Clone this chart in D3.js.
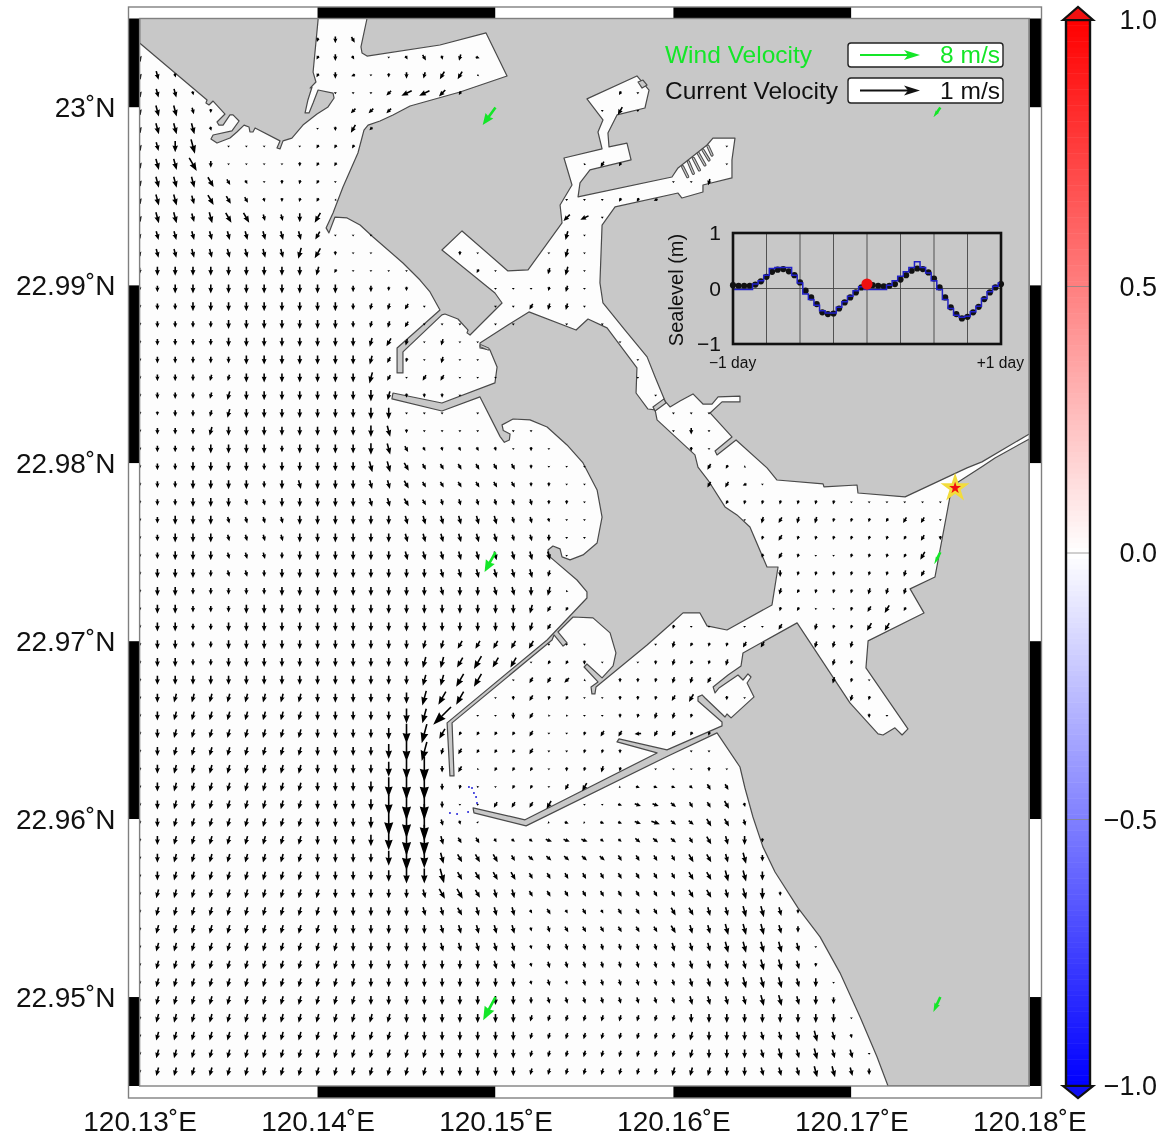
<!DOCTYPE html>
<html>
<head>
<meta charset="utf-8">
<script src="https://cdn.jsdelivr.net/npm/d3@7"></script>
<style>
body { margin: 0; background: #fff; }
svg { display: block; filter: blur(0.45px); }
text { font-family: "Liberation Sans", Arial, sans-serif; }
</style>
</head>
<body>
<div id="chart"></div>
<script>
// tide and current map, Kaohsiung harbour
var lonTicks = [120.13, 120.14, 120.15, 120.16, 120.17, 120.18];
var latTicks = [23, 22.99, 22.98, 22.97, 22.96, 22.95];
var colorTicks = [1, 0.5, 0, -0.5, -1];

// coast outlines: [thousandths of a degree east of 120.13, south of 23.005]
var landNorthWest = [[0,0],[0,1.38],[3.79,4.58],[3.73,4.75],[3.9,4.86],[4.13,4.64],[4.8,5.37],[4.35,5.82],[4.46,5.99],[4.69,5.99],[5.08,5.42],[5.25,5.42],[5.59,5.76],[5.19,6.32],[4.13,6.55],[4.01,6.77],[4.35,7],[5.08,6.72],[5.47,6.38],[5.87,5.99],[6.15,6.1],[6.2,6.38],[6.37,6.38],[6.49,6.15],[7.89,6.88],[7.72,7.28],[7.89,7.33],[8.06,6.88],[8.56,6.72],[9.18,5.99],[9.97,5.37],[10.59,4.97],[10.93,4.47],[10.87,4.19],[10.03,4.02],[9.75,4.75],[9.52,5.31],[9.3,5.31],[9.46,4.58],[9.69,3.85],[9.58,3.91],[9.91,3.57],[9.75,3.01],[10.03,0.08],[10.03,0]];
var landNorth = [[12.78,0],[12.44,1.6],[12.5,1.94],[12.78,2.11],[16.88,1.49],[19.47,0.81],[20.65,3.23],[18.01,4.13],[15.2,4.92],[14.24,5.42],[13.51,5.76],[12.84,5.99],[12.61,6.27],[12.27,7.56],[11.43,9.47],[10.87,10.93],[10.48,11.77],[10.64,12.05],[10.98,11.16],[11.66,11.21],[12.39,11.61],[13.12,12.28],[14.8,13.74],[15.76,14.7],[16.32,15.37],[16.88,16.38],[14.47,18.52],[14.47,19.92],[14.8,19.92],[14.8,18.74],[16.99,16.66],[17.16,16.61],[17.89,16.89],[18.46,17.51],[18.4,17.67],[18.57,17.79],[20.37,15.99],[19.97,15.43],[16.99,13.01],[18.12,11.94],[20.7,14.19],[21.83,14.13],[23.74,11.49],[23.63,10.48],[24.3,9.36],[23.85,7.84],[25.99,7.33],[25.76,6.38],[26.04,5.7],[25.14,4.52],[27.95,3.23],[28.63,4.02],[28.4,5.03],[26.83,5.42],[26.32,6.43],[26.38,7.22],[27.39,7],[27.62,7.95],[25.31,8.51],[24.75,9.24],[24.64,10.03],[29.92,8.91],[30.26,8.4],[31.89,7.11],[32.22,6.72],[33.46,6.72],[33.29,7.95],[33.29,8.96],[31.66,9.36],[31.66,9.75],[30.48,10.09],[30.26,9.81],[26.72,10.59],[25.99,11.61],[25.87,14.86],[26.04,15.99],[27.28,17.51],[28.52,19.02],[28.97,20.15],[29.53,21.5],[29.81,21.83],[30.37,21.5],[31.1,21.1],[31.66,21.67],[32.17,21.67],[32.51,21.27],[33.74,21.22],[33.74,21.55],[32.73,21.55],[32.06,22.17],[33.29,23.52],[32.34,24.31],[32.45,24.53],[33.52,23.69],[35.26,25.26],[35.82,25.94],[38.41,26.16],[38.46,26.33],[40.32,26.22],[40.37,26.67],[43.02,26.89],[46.5,25.26],[47.34,24.92],[50,23.35],[50,0]];
var landCentre = [[19.13,18.24],[19.13,18.52],[19.69,18.63],[20.09,19.59],[19.97,20.48],[16.99,21.61],[14.24,21.05],[14.18,21.38],[16.99,22.06],[19.13,21.27],[20.26,23.5],[20.5,23.82],[20.78,23.69],[20.82,23.35],[20.44,23.16],[20.37,22.84],[20.99,22.51],[21.94,22.56],[22.9,22.96],[24.02,23.97],[24.92,24.98],[25.71,26.5],[25.99,28.02],[25.71,29.48],[24.92,30.15],[24.19,30.43],[23.74,30.26],[23.63,29.81],[23.23,29.65],[22.95,29.87],[23.06,30.26],[24.58,31.56],[25.14,32.23],[25.14,32.57],[22.9,34.93],[17.28,39.59],[17.44,42.57],[17.67,42.57],[17.56,39.59],[23.18,34.93],[23.29,34.65],[23.8,35.27],[24.02,35.1],[23.51,34.48],[24.36,33.64],[25.48,33.69],[26.44,34.53],[26.77,35.66],[26.61,36.39],[25.99,37.06],[25.14,36.28],[24.98,36.45],[25.76,37.29],[25.37,37.57],[25.42,37.96],[25.59,37.96],[25.65,37.57],[28.52,35.21],[29.98,33.92],[30.54,33.41],[31.49,33.41],[31.89,34.14],[33.01,34.37],[35.54,32.96],[35.88,30.83],[35.26,30.83],[34.3,28.58],[33.57,27.9],[32.9,27.45],[31.94,25.94],[31.38,25.21],[31.21,24.53],[29.08,22.56],[28.97,22],[28.57,21.95],[27.9,21.05],[27.95,19.64],[26.27,17.39],[25.2,16.89],[24.53,17.51],[21.88,16.49],[20.7,17.23]];
var landSouthEast = [[50,23.63],[48.07,24.7],[47.4,25.15],[45.94,26.1],[45.54,26.89],[44.7,31.39],[43.3,32.06],[44.08,33.41],[40.94,34.98],[40.82,36.5],[43.18,39.93],[42.85,40.27],[42.45,39.87],[41.78,40.27],[41.5,40.21],[39.92,38.47],[36.95,33.97],[33.91,35.66],[33.8,36.39],[33.07,36.9],[32.23,37.57],[32.34,37.91],[32.56,37.63],[33.63,36.9],[33.91,37.18],[34.19,36.84],[34.36,37.01],[34.14,37.35],[34.53,38.13],[33.24,39.31],[33.01,39.09],[32.9,39.26],[31.78,38.19],[31.61,38.02],[31.38,38.13],[31.38,38.36],[32.73,39.54],[32.73,39.76],[29.64,41.11],[26.94,40.49],[26.83,40.66],[29.08,41.28],[21.66,45.04],[18.74,44.37],[18.79,44.65],[21.72,45.38],[29.7,41.45],[32.45,40.15],[33.74,42.07],[34.02,43.25],[34.47,44.88],[35.03,46.56],[35.71,47.97],[37,49.99],[38.24,51.62],[39.36,53.64],[40.49,56.12],[41.44,58.36],[42.06,60],[50,60]];
var gatePoly = [[28.85,21.83],[29.47,21.38],[29.58,21.61],[28.97,22.06]];
var hutPoly = [[28.01,3.57],[28.29,3.46],[28.52,3.74],[28.24,3.91]];
var combPiers = [[[30.52,8.33],[30.8,8.89]],[[30.84,8.05],[31.12,8.7]],[[31.12,7.86],[31.46,8.51]],[[31.4,7.58],[31.77,8.23]],[[31.66,7.39],[32,7.95]],[[31.94,7.17],[32.17,7.67]],[[19.19,18.4],[19.58,18.57]]];
var blueDots = [[18.51,43.19],[18.68,43.25],[18.79,43.53],[18.91,43.75],[18.96,44.09],[17.44,44.65],[17.84,44.71],[18.46,44.6]];

// current grid, one cell every 0.001 degree. Groups of five are for counting only.
// speed code -> m/s
var speedLevels = [0.03, 0.07, 0.11, 0.15, 0.19, 0.25, 0.33, 0.42, 0.52, 0.62];
var speedRows = [
"..... ..... 122",
"3.... ..... 121.0 12121",
"331.. ..... 12101 22330",
"3331. ..... .0002 4431. ..... ..10.",
"34421 ..... ..222 ..... ..... .030.",
"34441 ..... 0131.",
"3345. 000.0 111.. ..... ..... ..... ...0.",
"34452 00001 11... ..... ..... 021.. ...0.",
"34444 21011 10... ..... ..... ..... 002..",
"34434 32111 10... ..... ....0 00111",
"34434 44223 4.... ..... ....3 30...",
"23333 33333 3000. ..... ....3 0....",
"23333 33334 4100. ...10 ...03 0....",
"23333 33333 31000 0...1 0..23 0....",
"12333 33333 33221 1.... 00012 0....",
"12233 33333 33222 20... 00222 0....",
"12222 33333 33222 2000. 00..0 .0...",
"12222 33333 33333 20200 ..... ..0..",
"12222 23333 33332 10200 ..... ...0.",
"12222 23333 33342 02200 0.... ...0.",
"12222 33333 33343 1110. ..... ....0",
"11222 33333 33344 000.0 ..... ..... 000..",
"12223 33333 33344 10000 .00.. ..... 020..",
"12223 33323 33344 21111 1010. ..... .10..",
"12233 33233 33344 32222 22100 0.... ..210",
"12233 33233 33333 32222 22110 0.... ..221 0",
"12233 32233 33333 32222 22211 0.... ...11 11111 00000 0",
"12333 22223 33333 33333 32210 0.... ....0 22221 11122 0",
"12333 22223 33333 33333 32220 0.... ..... 12111 11112 1",
"12333 22223 33333 33333 33330 ..... ..... 12100 11113",
"13332 22233 33333 33333 3332. ..... ..... .2111 11122",
"13322 22233 33333 33333 33330 ..... ..... .2111 1222",
"13322 23333 33333 33333 33321 ..... ..... .1100 1231",
"13322 33333 33333 33333 3332. ..... 100.0 02.21 133",
"13322 33333 33333 33333 33300 0...0 21112 2..22 2",
"13322 33333 33333 34445 44011 10.01 2112. ....2 1",
"13333 33333 33333 34455 .0222 0.111 222.. ....2 10",
"13333 33333 33333 4555. 01211 00111 23.10 ..... 21",
"13333 33333 33333 557.0 02200 00112 21... ..... .10",
"13333 33333 33334 66411 11200 12222 211",
"13333 33333 33335 66221 11200 111.. .00",
"13333 33333 33335 67220 11101 121.0 0010.",
"13333 33333 33346 77210 01102 3.011 1122.",
"13333 33333 33346 88200 2223. 00122 22231",
"13333 33333 33347 89210 ...01 01123 22332",
"13333 33333 33346 88322 11122 21122 22333 1",
"13333 33333 33335 76433 32222 22222 23334 2",
"13333 33333 33334 55533 33222 22222 23344 3",
"13333 33333 33333 33443 33222 22222 23334 41",
"13333 33333 33333 33333 33121 21222 33334 431",
"13333 33333 33333 33333 33122 22222 33344 432",
"13333 33333 33333 33333 33122 22222 33344 4430",
"13333 33333 33333 33333 33122 22222 23333 4431",
"13333 33333 33333 33333 33121 22222 23334 44330",
"13333 33333 33333 33333 33222 22222 23333 44332",
"13333 33333 33333 33333 33222 22222 23333 33333 0",
"13333 33333 33333 33333 33222 22222 23333 33343 1",
"13333 33333 33333 33333 33222 22222 23333 34343 30",
"13333 33333 33333 33333 33222 22222 33333 33344 32"
];
// heading code -> degrees clockwise from north, missing cells read as "e"
var headingLevels = {a:110, b:130, c:150, d:165, e:180, f:195, g:210, h:225, i:245, j:265};
var headingRows = [
"ddddd ddddd fec",
"ddddd ddddd gecee ccdfa",
"ddddd ddddd geiee efggi",
"ddddd ddddd eeeeh iihge eeeee eegee",
"dddde eeeee eehhh eeeee eeeee eegee",
"ddddd eeeee eeghe",
"ddede eeeee gggee",
"dddce eeeee ggeee eeeee eeeee ggggg",
"ddddc cceef geeee eeeee eeeee eeeee eefee",
"ddddc ccdef gjeee eeeee eeeee eeggi",
"ddddd ccdde geeee eeeee eeeeh iee",
"ddddd ddddd geeee eeeee eeeef e",
"ddddd ddddf geeee ggeee eeeef",
"eeeee eeeee fgeee eeeeg eeeff",
"eeeee eeeee eeeee eeeee eeeff",
"eeeee eeeee eeeff geeee eegff",
"eeeee eeeee eeeff geeee",
"eeeee eeeee eeefg fefee",
"eeeee eeeee eeefg fefee",
"eeeef feeee eeefg eggee",
"eeeef feeee eeeef eeeee",
"eeeef feeee eeeee",
"eeeef eeeee eeeed",
"eeeee eeeee eeeed ccdcc deeee",
"eeeee eeeee eeedd ccccc cceee eeeee eeggi",
"eeeee eeeed eeedd ccccc cceee eeeee eeggi",
"eeeee eddee eeedd ccddd dddee eeeee eeegf fffff eeeee",
"eeeee dddde eeeee ddddd dddde eeeee eeeef fgfff ffggg",
"eeeee dddde eeeee ddddd dddee eeeee eeeee fgfff fffgg",
"eeeee dddee eeeee ddddd dddde eeeee eeeee fgfee fffgg",
"eeeee ddeee eeeee eeddd dddfg eeeee eeeee eefff ffffg",
"eeeee eeeee eeeee eedee ddefg eeeee eeeee ffgff ffffg",
"eeeee eeeee eeeee eeeee eefgg eeeee eeeee ffgff fgggf",
"eeeee eeeee eeeee eeeee eefgg eeeee feeee egeff fgg",
"eeeee eeeee eeeee effgg gggee eeeee fgffg geeff f",
"eeeee eeeee eeeee effgg ggegg eeeee fgfff eeeef f",
"eeeee eeeee eeeee effgg efggh ieeef ffggg eeeef f",
"eefff fffff eeeee efgge eegfg eeeef ggeee eeeee ff",
"eefff fffff eeeee efhee eeggg eeeff ffeee eeeee ee",
"eefff fffff eeeee efggg gggee fggjg ggfee",
"eefff fffff eeeee effgg gggee ffeee eeeee",
"eefff fffff eeeee eeegg gggee fffee ffee",
"eefff fffff eeeee eeeff eggeg geaaa abccc",
"eefff fffff eeeee eeeee ggggg eeaaa bcccd",
"eefff fffff eeeee eeddd eeeaa aaaaa bbccd",
"eefff fffff eeeee eedcc cbbaa abbbb bccde",
"eefff fffff eeeee eedcc ccbbb bbccc cccdd e",
"eefff fffff eeeee eedcc ccccc ccccc cccdd e",
"effff fffff feeee edccc ddccc ccccc cccdd ee",
"effff fffff feeee eddcd ddccc ccccc ccddd dde",
"effff fffff feeee eeddd ddddc ccccc cdddd dde",
"effff fffff ffeee eeddd ddddd ddddd ddddd ddde",
"effff fffff ffeee eeeee ddddd ddddd ddddd ddde",
"effff fffff fffee eeeee eeddd ddddd ddddd ddde",
"effff fffff fffee eeeee eeedd ddddd ddddd ddde",
"effff fffff fffff eeeee eefff fffff feeee eeeee e",
"effff fffff fffff feeee eefff fffff ffeee ddddd d",
"effff fffff fffff ffeee eefff fffff ffeee ddddd d",
"effff fffff fffff ffeee eefff fffff fffee ddddd d"
];

// green wind stations
var windLon = [120.15, 120.15, 120.15, 120.175, 120.175, 120.175];
var windLat = [23, 22.975, 22.95, 23, 22.975, 22.95];
var windSpeed = [2.9, 3.0, 3.5, 1.6, 1.8, 2.2];
var windHeading = [216, 209, 208, 215, 207, 205];
var stationLon = 120.17583, stationLat = 22.97861;

// hourly sea level for the inset, -24 h to +24 h
var modelLevel = [0.06,0.05,0.05,0.05,0.07,0.13,0.21,0.3,0.34,0.35,0.31,0.24,0.11,-0.04,-0.16,-0.28,-0.43,-0.46,-0.45,-0.36,-0.25,-0.16,-0.07,0.02,0.08,0.06,0.05,0.04,0.05,0.08,0.16,0.24,0.32,0.36,0.35,0.29,0.18,0.02,-0.16,-0.34,-0.46,-0.54,-0.51,-0.43,-0.33,-0.19,-0.07,0.02,0.08];
var gaugeLevel = [-0.02,-0.02,-0.02,-0.02,0.08,0.14,0.24,0.36,0.38,0.38,0.38,0.24,0.1,-0.1,-0.2,-0.3,-0.4,-0.44,-0.44,-0.34,-0.24,-0.14,-0.04,0.03,-0.02,-0.02,-0.02,-0.02,0.06,0.14,0.22,0.3,0.38,0.48,0.38,0.28,0.14,-0.02,-0.2,-0.36,-0.48,-0.52,-0.5,-0.42,-0.32,-0.18,-0.06,0.04,0.1];
var hourGrid = [-18, -12, -6, 0, 6, 12, 18];

var landFill = "#c8c8c8", landLine = "#4a4a4a", frameLine = "#808080", green = "#14e628";

var width = 1167, height = 1138;
var svg = d3.select("#chart").append("svg").attr("width", width).attr("height", height);

var lonScale = d3.scaleLinear().domain([120.13, 120.18]).range([139.6, 1029.3]);
var latScale = d3.scaleLinear().domain([22.945, 23.005]).range([1086, 18.5]);
var currentLen = d3.scaleLinear().domain([0, 1]).range([0, 60]);
var windLen = d3.scaleLinear().domain([0, 8]).range([0, 60]);

function px(p) { return lonScale(120.13 + p[0] / 1000); }
function py(p) { return latScale(23.005 - p[1] / 1000); }
var polyLine = d3.line().x(px).y(py);

// arrow pointing down, (0,0) at the given fraction of its length
function arrowPath(len, anchor, sw, hw) {
	var hl = Math.min(len, Math.min(13, 1.5 + len * 0.42)),
		top = -len * anchor,
		tip = len * (1 - anchor),
		neck = tip - hl;
	return "M" + (-sw) + "," + top + "L" + sw + "," + top + "L" + sw + "," + neck +
		"L" + hw + "," + (neck - hl * 0.08) + "L0," + tip + "L" + (-hw) + "," + (neck - hl * 0.08) +
		"L" + (-sw) + "," + neck + "Z";
}

// water
svg.append("rect").attr("x", lonScale(120.13)).attr("y", latScale(23.005))
	.attr("width", lonScale(120.18) - lonScale(120.13))
	.attr("height", latScale(22.945) - latScale(23.005))
	.attr("fill", "#fdfdfd");

svg.append("clipPath").attr("id", "mapClip").append("rect")
	.attr("x", lonScale(120.13)).attr("y", latScale(23.005))
	.attr("width", lonScale(120.18) - lonScale(120.13))
	.attr("height", latScale(22.945) - latScale(23.005));

var map = svg.append("g").attr("clip-path", "url(#mapClip)");

// land
map.selectAll("path.land")
	.data([landNorthWest, landNorth, landCentre, landSouthEast, gatePoly, hutPoly])
	.enter().append("path").attr("class", "land")
	.attr("d", function (d) { return polyLine(d) + "Z"; })
	.attr("fill", landFill).attr("stroke", landLine).attr("stroke-width", 1.2)
	.attr("stroke-linejoin", "round");

map.selectAll("path.pierEdge").data(combPiers).enter().append("path").attr("class", "pierEdge")
	.attr("d", polyLine).attr("stroke", landLine).attr("stroke-width", 3.2)
	.attr("stroke-linecap", "round").attr("fill", "none");
map.selectAll("path.pier").data(combPiers).enter().append("path").attr("class", "pier")
	.attr("d", polyLine).attr("stroke", landFill).attr("stroke-width", 1.2)
	.attr("stroke-linecap", "round").attr("fill", "none");

map.selectAll("circle.blue").data(blueDots).enter().append("circle").attr("class", "blue")
	.attr("cx", px).attr("cy", py).attr("r", 1).attr("fill", "#2020d8");

// current arrows
var cells = [];
speedRows.forEach(function (row, r) {
	var speeds = row.replace(/ /g, ""),
		headings = headingRows[r].replace(/ /g, "");
	speeds.split("").forEach(function (c, j) {
		if (c === ".") return;
		cells.push({
			lon: 120.13 + j * 0.001,
			lat: 23.0038 - r * 0.001,
			speed: speedLevels[+c],
			heading: headingLevels[headings.charAt(j) || "e"]
		});
	});
});

map.selectAll("path.current").data(cells).enter().append("path").attr("class", "current")
	.attr("d", function (d) {
		var len = currentLen(d.speed);
		return arrowPath(len, 0.5, 0.8, Math.min(4.6, 1.2 + len * 0.14));
	})
	.attr("transform", function (d) {
		return "translate(" + lonScale(d.lon) + "," + latScale(d.lat) + ") rotate(" + (d.heading - 180) + ")";
	})
	.attr("fill", "#000");

// wind arrows
map.selectAll("path.wind").data(windLon).enter().append("path").attr("class", "wind")
	.attr("d", function (d, i) {
		var len = windLen(windSpeed[i]);
		return arrowPath(len, 0, 1.3, Math.max(2, Math.min(5.5, (len - 8) * 0.35)));
	})
	.attr("transform", function (d, i) {
		return "translate(" + lonScale(d) + "," + latScale(windLat[i]) + ") rotate(" + (windHeading[i] - 180) + ")";
	})
	.attr("fill", green);

// station star
map.append("path").attr("d", d3.symbol(d3.symbolStar, 130))
	.attr("transform", "translate(" + lonScale(stationLon) + "," + latScale(stationLat) + ")")
	.attr("fill", "#f01010").attr("stroke", "#f2dc3c").attr("stroke-width", 2.8)
	.attr("stroke-linejoin", "miter");

// checkered frame
var frameL = 128.5, frameR = 1041.5, frameT = 7, frameB = 1098;
var lonEdges = [120.13].concat(lonTicks.slice(1));
var latEdges = [23.005].concat(latTicks, [22.945]);
var frame = svg.append("g");
d3.pairs(lonEdges).forEach(function (p, i) {
	[[frameT, latScale(23.005)], [latScale(22.945), frameB]].forEach(function (b) {
		frame.append("rect").attr("x", lonScale(p[0])).attr("y", b[0])
			.attr("width", lonScale(p[1]) - lonScale(p[0])).attr("height", b[1] - b[0])
			.attr("fill", i % 2 ? "#000" : "#fff");
	});
});
d3.pairs(latEdges).forEach(function (p, i) {
	[[frameL, lonScale(120.13)], [lonScale(120.18), frameR]].forEach(function (b) {
		frame.append("rect").attr("x", b[0]).attr("y", latScale(p[0]))
			.attr("width", b[1] - b[0]).attr("height", latScale(p[1]) - latScale(p[0]))
			.attr("fill", i % 2 ? "#fff" : "#000");
	});
});
frame.append("rect").attr("x", frameL).attr("y", frameT)
	.attr("width", frameR - frameL).attr("height", frameB - frameT)
	.attr("fill", "none").attr("stroke", frameLine).attr("stroke-width", 1.4);
frame.append("rect").attr("x", lonScale(120.13)).attr("y", latScale(23.005))
	.attr("width", lonScale(120.18) - lonScale(120.13)).attr("height", latScale(22.945) - latScale(23.005))
	.attr("fill", "none").attr("stroke", frameLine).attr("stroke-width", 1.4);

// map axes
var bottomAxis = d3.axisBottom(lonScale).tickValues(lonTicks).tickSize(0).tickPadding(13)
	.tickFormat(function (d) { return d.toFixed(2) + "˚E"; });
var leftAxis = d3.axisLeft(latScale).tickValues(latTicks).tickSize(0).tickPadding(13)
	.tickFormat(function (d) { return (d === 23 ? "23" : d.toFixed(2)) + "˚N"; });
svg.append("g").attr("transform", "translate(0," + frameB + ")").call(bottomAxis)
	.call(function (g) { g.select(".domain").remove(); })
	.selectAll("text").style("font-family", "Liberation Sans").style("font-size", "28px").attr("fill", "#111");
svg.append("g").attr("transform", "translate(" + frameL + ",0)").call(leftAxis)
	.call(function (g) { g.select(".domain").remove(); })
	.selectAll("text").style("font-family", "Liberation Sans").style("font-size", "28px").attr("fill", "#111");

// colour bar
var barX = 1066, barW = 24;
var barScale = d3.scaleLinear().domain([-1, 1]).range([1086, 20]);
var barColor = d3.scaleLinear().domain([-1, 0, 1]).range(["#0000ff", "#ffffff", "#ff0000"]);
var barSteps = d3.range(-1, 1, 0.01);
svg.append("g").selectAll("rect").data(barSteps).enter().append("rect")
	.attr("x", barX).attr("width", barW)
	.attr("y", function (d) { return barScale(d + 0.01); })
	.attr("height", function (d) { return barScale(d) - barScale(d + 0.01) + 0.5; })
	.attr("fill", function (d) { return barColor(d + 0.005); });
svg.append("g").selectAll("line").data(colorTicks.slice(1, 4)).enter().append("line")
	.attr("x1", barX).attr("x2", barX + barW)
	.attr("y1", barScale).attr("y2", barScale)
	.attr("stroke", "#888").attr("stroke-width", 0.8);
svg.append("rect").attr("x", barX).attr("y", barScale(1)).attr("width", barW)
	.attr("height", barScale(-1) - barScale(1))
	.attr("fill", "none").attr("stroke", "#111").attr("stroke-width", 2.4);
var capTop = [[barX - 3, barScale(1)], [barX + barW / 2, barScale(1) - 13], [barX + barW + 3, barScale(1)]];
var capBottom = [[barX - 3, barScale(-1)], [barX + barW / 2, barScale(-1) + 12], [barX + barW + 3, barScale(-1)]];
svg.append("path").attr("d", d3.line()(capTop) + "Z").attr("fill", "#f01010")
	.attr("stroke", "#111").attr("stroke-width", 2.2).attr("stroke-linejoin", "miter");
svg.append("path").attr("d", d3.line()(capBottom) + "Z").attr("fill", "#1010f0")
	.attr("stroke", "#111").attr("stroke-width", 2.2).attr("stroke-linejoin", "miter");

var barAxis = d3.axisRight(barScale).tickValues(colorTicks).tickSize(0)
	.tickFormat(function (d) { return d.toFixed(1).replace("-", "−"); });
svg.append("g").attr("transform", "translate(" + (barX + barW) + ",0)").call(barAxis)
	.call(function (g) { g.select(".domain").remove(); })
	.selectAll("text").attr("x", 67).style("text-anchor", "end")
	.style("font-family", "Liberation Sans").style("font-size", "27px").attr("fill", "#111");

// legend
function legendRow(y, boxY, boxH, label, value, color, len) {
	svg.append("text").attr("x", 665).attr("y", y).text(label)
		.attr("fill", color).style("font-size", "24.5px");
	svg.append("rect").attr("x", 848).attr("y", boxY).attr("width", 155).attr("height", boxH)
		.attr("rx", 3).attr("fill", "#fff").attr("stroke", "#222").attr("stroke-width", 1.4);
	var mid = boxY + boxH / 2;
	svg.append("line").attr("x1", 860).attr("x2", 860 + len - 10).attr("y1", mid).attr("y2", mid)
		.attr("stroke", color).attr("stroke-width", 2.2);
	svg.append("path").attr("d", d3.line()([[860 + len - 16, mid - 5], [860 + len, mid], [860 + len - 16, mid + 5], [860 + len - 12, mid]]) + "Z")
		.attr("fill", color);
	svg.append("text").attr("x", 1000).attr("y", mid + 8).attr("text-anchor", "end").text(value)
		.attr("fill", color).style("font-size", "24.5px");
}
legendRow(63, 43, 24, "Wind Velocity", "8 m/s", green, windLen(8));
legendRow(99, 78, 25, "Current Velocity", "1 m/s", "#111", currentLen(1));

// sea level inset
var hourScale = d3.scaleLinear().domain([-24, 24]).range([733, 1001]);
var levelScale = d3.scaleLinear().domain([-1, 1]).range([344, 233]);
var inset = svg.append("g");
inset.selectAll("line.hour").data(hourGrid).enter().append("line").attr("class", "hour")
	.attr("x1", hourScale).attr("x2", hourScale)
	.attr("y1", levelScale(-1)).attr("y2", levelScale(1))
	.attr("stroke", "#444").attr("stroke-width", 0.9);
inset.append("line").attr("x1", hourScale(-24)).attr("x2", hourScale(24))
	.attr("y1", levelScale(0)).attr("y2", levelScale(0))
	.attr("stroke", "#444").attr("stroke-width", 0.9);

inset.selectAll("circle.model").data(modelLevel).enter().append("circle").attr("class", "model")
	.attr("cx", function (d, i) { return hourScale(i - 24); })
	.attr("cy", levelScale).attr("r", 3.1).attr("fill", "#111");
inset.append("path").datum(gaugeLevel)
	.attr("d", d3.line().curve(d3.curveStep)
		.x(function (d, i) { return hourScale(i - 24); }).y(levelScale))
	.attr("fill", "none").attr("stroke", "#2020c8").attr("stroke-width", 1.5);
inset.append("circle").attr("cx", hourScale(0)).attr("cy", levelScale(modelLevel[24]))
	.attr("r", 5.6).attr("fill", "#f01010");
inset.append("rect").attr("x", hourScale(-24)).attr("y", levelScale(1))
	.attr("width", hourScale(24) - hourScale(-24)).attr("height", levelScale(-1) - levelScale(1))
	.attr("fill", "none").attr("stroke", "#111").attr("stroke-width", 2.6);

var levelAxis = d3.axisLeft(levelScale).tickValues([1, 0, -1]).tickSize(0).tickPadding(12)
	.tickFormat(function (d) { return String(d).replace("-", "−"); });
inset.append("g").attr("transform", "translate(733,0)").call(levelAxis)
	.call(function (g) { g.select(".domain").remove(); })
	.selectAll("text").style("font-family", "Liberation Sans").style("font-size", "21px").attr("fill", "#111");
inset.append("text").attr("transform", "translate(683,290) rotate(-90)").attr("text-anchor", "middle")
	.text("Sealevel (m)").attr("fill", "#111").style("font-size", "20px");
inset.append("text").attr("x", 709).attr("y", 368).text("−1 day").attr("fill", "#111").style("font-size", "15.6px");
inset.append("text").attr("x", 1024).attr("y", 368).attr("text-anchor", "end").text("+1 day").attr("fill", "#111").style("font-size", "15.6px");
</script>
</body>
</html>
